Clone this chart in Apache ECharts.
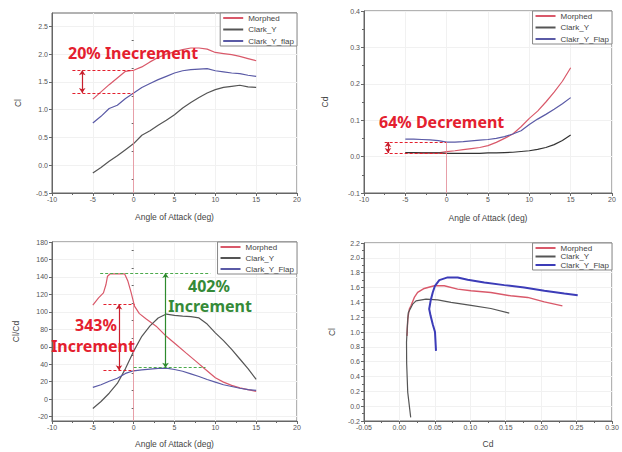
<!DOCTYPE html>
<html><head><meta charset="utf-8">
<script src="https://cdn.jsdelivr.net/npm/echarts@6/dist/echarts.min.js"></script>
<style>html,body{margin:0;padding:0;background:#fff}#c{width:622px;height:452px}</style>
</head><body><div id="c"></div>
<script>
// ---------- Data ----------
const aoa = [-5,-4,-3,-2,-1,0,1,2,3,4,5,6,7,8,9,10,11,12,13,14,15];
// Panel 1: Cl vs AoA
const clMorphed = [1.19,1.32,1.45,1.57,1.69,1.71,1.77,1.86,1.94,2.00,2.04,2.08,2.11,2.11,2.09,2.03,2.01,1.99,1.96,1.92,1.88];
const clClarkY  = [-0.14,-0.04,0.07,0.17,0.28,0.39,0.54,0.62,0.72,0.81,0.91,1.03,1.13,1.22,1.30,1.36,1.40,1.42,1.44,1.41,1.40];
const clFlap    = [0.76,0.88,1.02,1.08,1.20,1.30,1.40,1.47,1.54,1.60,1.66,1.70,1.72,1.73,1.74,1.70,1.68,1.66,1.65,1.62,1.60];
// Panel 2: Cd vs AoA
const cdMorphed = [0.011,0.011,0.010,0.010,0.010,0.0135,0.016,0.019,0.022,0.025,0.030,0.039,0.050,0.062,0.082,0.105,0.125,0.150,0.177,0.207,0.244];
const cdClarkY  = [0.011,0.011,0.010,0.010,0.010,0.009,0.009,0.009,0.009,0.009,0.010,0.010,0.011,0.012,0.014,0.016,0.020,0.025,0.033,0.044,0.059];
const cdFlap    = [0.048,0.048,0.047,0.046,0.044,0.040,0.040,0.041,0.043,0.045,0.047,0.050,0.055,0.062,0.071,0.088,0.103,0.116,0.130,0.145,0.162];
// Panel 3: Cl/Cd vs AoA
const ldMorphedAoa = [-5,-4.3,-3.7,-3.4,-3.2,-2.9,-2,-1.1,-0.7,-0.3,0.1,0.7,1.5,2.75,4,5.2,6.4,7.6,8.8,10,11,12,13,14,15];
const ldMorphed    = [107.6,116,121.7,131,140.8,143.4,143.4,143.4,135,121.7,106.5,98,92,83.6,72,62.7,53,43.6,34,24.6,19.5,15.8,13,11,9];
const ldClarkY     = [-10.6,-2.7,6.8,18,35,55,72,84,93,97.5,96,95,94.5,93,86,76,67,57,46,35,22.7];
const ldFlap       = [13.5,16.5,20.5,24,29.5,32.5,33.5,34.5,35.3,35.5,34,32,29,26,22.5,19.5,16.5,14.5,12.5,11,10];
// Panel 4: Cl vs Cd (drag polar)
const polMorphedCd = [0.0107,0.0117,0.014,0.0163,0.021,0.0257,0.035,0.0492,0.0632,0.0822,0.101,0.129,0.157,0.181,0.2045,0.230];
const polMorphedCl = [0.948,1.173,1.31,1.353,1.466,1.533,1.587,1.623,1.623,1.578,1.556,1.533,1.488,1.466,1.407,1.353];
const polClarkYCd  = [0.0159,0.0117,0.0102,0.0100,0.0110,0.0125,0.0187,0.0234,0.0375,0.054,0.0728,0.101,0.129,0.155];
const polClarkYCl  = [-0.151,0.19,0.578,0.86,1.05,1.26,1.375,1.42,1.443,1.434,1.40,1.36,1.317,1.254];
const polFlapCd    = [0.0516,0.0502,0.047,0.044,0.042,0.044,0.047,0.0502,0.0563,0.068,0.0822,0.0963,0.1198,0.148,0.176,0.2045,0.2327,0.2516];
const polFlapCl    = [0.745,1.0,1.105,1.218,1.31,1.42,1.533,1.623,1.70,1.736,1.736,1.705,1.668,1.632,1.60,1.556,1.52,1.497];
// Tick values
const aoaTicks = [-10,20,5];
const p1Labels = [-0.5,0,0.5,1,1.5,2,2.5];
const p1Minor  = [-0.25,0.25,0.75,1.25,1.75,2.25];
const p3Labels = [-20,0,20,40,60,80,100,120,140,160,180];
const p3Minor  = [-10,10,30,50,70,90,110,130,150,170];
// Annotations
const p1Levels = [1.71, 1.30];  const p1DashX = [-7.5, 0]; const p1ArrowX = -6.3; const p1VBottom = -0.5;
const p2Levels = [0.04, 0.01];  const p2DashX = [-7.5, 0]; const p2ArrowX = -7.1; const p2VBottom = -0.1;
const p3RedLevels = [108.4, 33]; const p3RedDashX = [-3.7, 0.1]; const p3RedArrowX = -1.8; const p3VBottom = -25;
const p3GreenLevels = [144.6, 36]; const p3GreenTopX = [-4.1, 9.4]; const p3GreenLowX = [0, 8.8]; const p3GreenArrowX = 3.9;

// ---------- Styles ----------
const C_M = '#d9596a', C_Y = '#555555', C_F = '#5a5aa6', C_F4 = '#3c3cb8';
const AX = '#666';
const FONT = 'Liberation Sans';
const RED = '#e4202e', GREEN = '#358a38';

function xAxis(gi, min, max, interval, name, gap, fmt) {
  return {gridIndex: gi, type: 'value', min, max, interval, name, nameLocation: 'middle', nameGap: gap,
    nameTextStyle: {fontSize: 8.5, color: '#444', fontFamily: FONT},
    axisLine: {show: true, onZero: false, lineStyle: {color: AX, width: 1}},
    axisTick: {show: true, inside: false, length: 3, lineStyle: {color: AX}},
    minorTick: {show: true, splitNumber: 2, length: 2, lineStyle: {color: AX}},
    axisLabel: {fontSize: 7, color: '#555', fontFamily: FONT, margin: 3, formatter: fmt},
    splitLine: {show: true, lineStyle: {color: '#f1f1f1'}}};
}
function yAxis(gi, min, max, interval, name, gap, fmt, extra) {
  const a = {gridIndex: gi, type: 'value', min, max, interval, name, nameLocation: 'middle', nameGap: gap,
    position: 'left',
    nameTextStyle: {fontSize: 8.5, color: '#444', fontFamily: FONT},
    axisLine: {show: true, onZero: false, lineStyle: {color: AX, width: 1}},
    axisTick: {show: true, inside: false, length: 3, lineStyle: {color: AX}},
    minorTick: {show: true, splitNumber: 2, length: 2, lineStyle: {color: AX}},
    axisLabel: {fontSize: 7, color: '#555', fontFamily: FONT, margin: 4, formatter: fmt},
    splitLine: {show: true, lineStyle: {color: '#f1f1f1'}}};
  if (extra) extra(a);
  return a;
}
function minorAxis(gi, min, max, vals) {
  return {gridIndex: gi, type: 'value', min, max, position: 'left',
    axisLine: {show: false}, axisLabel: {show: false}, splitLine: {show: false},
    axisTick: {show: true, length: 2, customValues: vals, lineStyle: {color: AX}}};
}
function lineS(name, xi, yi, xs, ys, color, width) {
  return {type: 'line', name, xAxisIndex: xi, yAxisIndex: yi, data: xs.map((x, i) => [x, ys[i]]),
    symbol: 'none', showSymbol: false, lineStyle: {color, width}, itemStyle: {color}, animation: false};
}
function seg(xi, yi, segs, color, width, type, arrows) {
  return {type: 'lines', coordinateSystem: 'cartesian2d', xAxisIndex: xi, yAxisIndex: yi, silent: true,
    data: segs.map(s => ({coords: s})), symbol: arrows ? ['arrow', 'arrow'] : ['none', 'none'], symbolSize: 5,
    lineStyle: {color, width, type, opacity: 1}, animation: false, z: 5};
}
function legend(right, top, names, gap, extraData) {
  return {orient: 'vertical', right, top, itemWidth: 20, itemHeight: 7, itemGap: gap,
    padding: [1, 3, 1, 2], borderColor: '#888', borderWidth: 1, backgroundColor: '#fff',
    itemStyle: {opacity: 0},
    textStyle: {fontSize: 8, color: '#444', fontFamily: FONT},
    data: names.map(n => (extraData && extraData[n]) ? Object.assign({name: n}, extraData[n]) : n)};
}

const f0 = v => String(v);
const f1 = v => v.toFixed(1);
const f2 = v => v.toFixed(2);
const annFont = 'bold 16px "Noto Sans"';

const option = {
  animation: false,
  backgroundColor: '#fff',
  grid: [
    {left: 52, top: 13, width: 245, height: 180, show: true, borderColor: AX, borderWidth: 1},
    {left: 364, top: 11, width: 248, height: 182, show: true, borderColor: AX, borderWidth: 1},
    {left: 52, top: 242, width: 245, height: 179, show: true, borderColor: AX, borderWidth: 1},
    {left: 364, top: 243, width: 248, height: 178, show: true, borderColor: AX, borderWidth: 1}
  ],
  xAxis: [
    xAxis(0, aoaTicks[0], aoaTicks[1], aoaTicks[2], 'Angle of Attack (deg)', 19, f0),
    xAxis(1, aoaTicks[0], aoaTicks[1], aoaTicks[2], 'Angle of Attack (deg)', 20, f0),
    xAxis(2, aoaTicks[0], aoaTicks[1], aoaTicks[2], 'Angle of Attack (deg)', 18, f0),
    xAxis(3, -0.05, 0.30, 0.05, 'Cd', 18, f2)
  ],
  yAxis: [
    yAxis(0, -0.5, 2.74, null, 'Cl', 30, f1, a => {
      delete a.interval; a.minorTick = {show: false};
      a.axisLabel.customValues = p1Labels; a.axisTick.customValues = p1Labels; }),
    yAxis(1, -0.1, 0.4, 0.1, 'Cd', 35, f1),
    yAxis(2, -25, 180, null, 'Cl/Cd', 32, f0, a => {
      delete a.interval; a.minorTick = {show: false};
      a.axisLabel.customValues = p3Labels; a.axisTick.customValues = p3Labels; }),
    yAxis(3, -0.2, 2.2, 0.2, 'Cl', 28, f1),
    minorAxis(0, -0.5, 2.74, p1Minor),
    minorAxis(2, -25, 180, p3Minor)
  ],
  legend: [
    legend(622 - 297, 13, ['Morphed', 'Clark_Y', 'Clark_Y_flap'], 3.5),
    legend(622 - 612, 11, ['Morphed', 'Clark_Y', 'Clakr_Y_Flap'], 3.5),
    legend(622 - 297, 242, ['Morphed', 'Clark_Y', 'Clark_Y_Flap'], 3),
    legend(622 - 612, 243, ['Morphed', 'Clark_Y', 'Clark_Y_Flap'], 0.5,
      {'Clark_Y_Flap': {lineStyle: {color: C_F4, width: 2}}})
  ],
  series: [
    // Panel 1
    lineS('Morphed', 0, 0, aoa, clMorphed, C_M, 1.2),
    lineS('Clark_Y', 0, 0, aoa, clClarkY, C_Y, 1.2),
    lineS('Clark_Y_flap', 0, 0, aoa, clFlap, C_F, 1.2),
    seg(0, 0, [[[p1DashX[0], p1Levels[0]], [p1DashX[1], p1Levels[0]]], [[p1DashX[0], p1Levels[1]], [p1DashX[1], p1Levels[1]]]], RED, 1.2, [3, 2], false),
    seg(0, 0, [[[0, p1Levels[0]], [0, p1VBottom]]], '#e58a95', 0.8, 'solid', false),
    seg(0, 0, [[[p1ArrowX, p1Levels[0]], [p1ArrowX, p1Levels[1]]]], '#c8202e', 1.2, 'solid', true),
    // Panel 2
    lineS('Morphed', 1, 1, aoa, cdMorphed, C_M, 1.2),
    lineS('Clark_Y', 1, 1, aoa, cdClarkY, '#333', 1.2),
    lineS('Clakr_Y_Flap', 1, 1, aoa, cdFlap, C_F, 1.2),
    seg(1, 1, [[[p2DashX[0], p2Levels[0]], [p2DashX[1], p2Levels[0]]], [[p2DashX[0], p2Levels[1]], [p2DashX[1], p2Levels[1]]]], RED, 1.2, [3, 2], false),
    seg(1, 1, [[[0, p2Levels[0]], [0, p2VBottom]]], '#e58a95', 0.8, 'solid', false),
    seg(1, 1, [[[p2ArrowX, p2Levels[0]], [p2ArrowX, p2Levels[1]]]], '#c8202e', 1.2, 'solid', true),
    // Panel 3
    lineS('Morphed', 2, 2, ldMorphedAoa, ldMorphed, C_M, 1.2),
    lineS('Clark_Y', 2, 2, aoa, ldClarkY, C_Y, 1.2),
    lineS('Clark_Y_Flap', 2, 2, aoa, ldFlap, C_F, 1.2),
    seg(2, 2, [[[p3RedDashX[0], p3RedLevels[0]], [p3RedDashX[1], p3RedLevels[0]]], [[p3RedDashX[0], p3RedLevels[1]], [p3RedDashX[1], p3RedLevels[1]]]], RED, 1.2, [3, 2], false),
    seg(2, 2, [[[0, p3RedLevels[0]], [0, p3VBottom]]], '#e58a95', 0.8, 'solid', false),
    seg(2, 2, [[[p3RedArrowX, p3RedLevels[0]], [p3RedArrowX, p3RedLevels[1]]]], '#c8202e', 1.2, 'solid', true),
    seg(2, 2, [[[p3GreenTopX[0], p3GreenLevels[0]], [p3GreenTopX[1], p3GreenLevels[0]]], [[p3GreenLowX[0], p3GreenLevels[1]], [p3GreenLowX[1], p3GreenLevels[1]]]], '#4caa4c', 1.2, [3, 2], false),
    seg(2, 2, [[[p3GreenArrowX, p3GreenLevels[0]], [p3GreenArrowX, p3GreenLevels[1]]]], '#2e8b2e', 1.2, 'solid', true),
    // Panel 4
    lineS('Morphed', 3, 3, polMorphedCd, polMorphedCl, C_M, 1.4),
    lineS('Clark_Y', 3, 3, polClarkYCd, polClarkYCl, C_Y, 1.2),
    lineS('Clark_Y_Flap', 3, 3, polFlapCd, polFlapCl, C_F4, 2)
  ],
  graphic: [
    {type: 'text', x: 68, y: 53, z: 100, style: {text: '20% Inecrement', fill: RED, font: annFont, lineHeight: 16, align: 'left', verticalAlign: 'middle'}},
    {type: 'text', x: 379, y: 122, z: 100, style: {text: '64% Decrement', fill: RED, font: annFont, lineHeight: 16, align: 'left', verticalAlign: 'middle'}},
    {type: 'text', x: 96, y: 325, z: 100, style: {text: '343%', fill: RED, font: annFont, lineHeight: 16, align: 'center', verticalAlign: 'middle'}},
    {type: 'text', x: 93, y: 346, z: 100, style: {text: 'Increment', fill: RED, font: annFont, lineHeight: 16, align: 'center', verticalAlign: 'middle'}},
    {type: 'text', x: 209, y: 286, z: 100, style: {text: '402%', fill: GREEN, font: annFont, lineHeight: 16, align: 'center', verticalAlign: 'middle'}},
    {type: 'text', x: 210, y: 306, z: 100, style: {text: 'Increment', fill: GREEN, font: annFont, lineHeight: 16, align: 'center', verticalAlign: 'middle'}}
  ]
};
const chart = echarts.init(document.getElementById('c'), null, {renderer: 'svg'});
chart.setOption(option);
</script>
</body></html>
